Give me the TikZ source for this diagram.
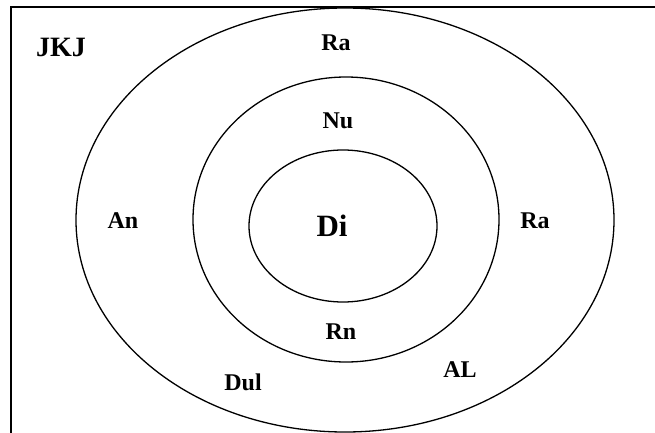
\documentclass[tikz,border=0pt]{standalone}
\usepackage{fontspec}
\setmainfont{Liberation Serif}
\begin{document}
\begin{tikzpicture}[x=1pt,y=-1pt,
		lbl/.style={font=\bfseries\fontsize{24}{28}\selectfont, inner sep=0pt},
		ring/.style={line width=1.3pt}]
		\useasboundingbox (0,0) rectangle (655,433);
		\coordinate (O) at (345,220);
		\coordinate (M) at (346,219.5);
		\coordinate (I) at (343,226);
		\coordinate (TL) at (11,7);
		\coordinate (TR) at (655,7);
		\coordinate (BL) at (11,433);
		
		\draw[ring] (TR) -- (TL) -- (BL);
		\draw[ring] (O) ellipse [x radius=269, y radius=212];
		\draw[ring] (M) ellipse [x radius=153, y radius=142.5];
		\draw[ring] (I) ellipse [x radius=94, y radius=76];
		
		\node[lbl, font=\bfseries\fontsize{28}{32}\selectfont] (jkj) at (61,47) {JKJ};
		\node[lbl] (ratop) at (336,43) {Ra};
		\node[lbl] (nu) at (338,121) {Nu};
		\node[lbl] (an) at (123,221) {An};
		\node[lbl, font=\bfseries\fontsize{31}{36}\selectfont] (di) at (332,226) {Di};
		\node[lbl] (raright) at (535,221) {Ra};
		\node[lbl] (rn) at (341,332) {Rn};
		\node[lbl] (dul) at (243,382) {Dul};
		\node[lbl] (al) at (460,370) {AL};
		\end{tikzpicture}
\end{document}
